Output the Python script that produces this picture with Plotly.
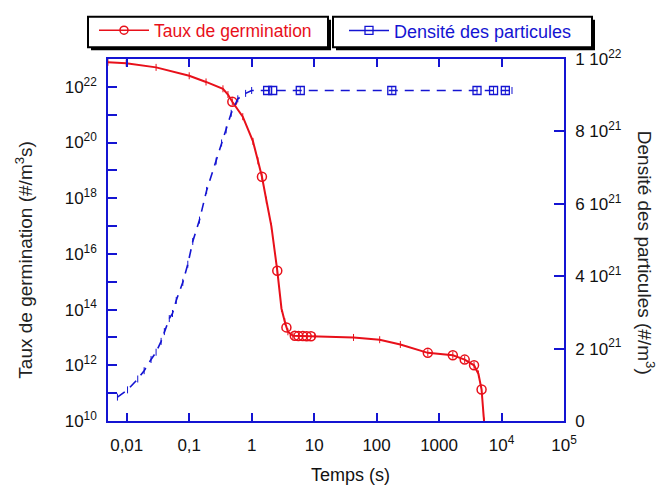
import plotly.graph_objects as go

# ---- data ----
# Taux de germination (left log axis), line points
germ_t = [0.005, 0.0098, 0.0295, 0.1, 0.186, 0.347, 0.417, 0.49, 0.72, 1.05, 1.26, 1.46, 1.72,
          2.07, 2.57, 3.0, 3.39, 3.8, 4.57, 10.2, 42.7, 112, 240, 660, 1660, 2570, 3630, 4270,
          4790, 5130, 5250]
germ_n = [7.6e22, 7.1e22, 5.0e22, 2.5e22, 1.5e22, 8.5e21, 5.3e21, 2.9e21, 8.5e20, 1.1e20, 2.2e19,
          5.9e18, 8.5e17, 9.8e16, 2.5e15, 1.1e14, 3.7e13, 1.6e13, 1.15e13, 1.1e13, 1.0e13, 8.3e12,
          5.6e12, 2.8e12, 2.3e12, 1.6e12, 1.0e12, 4.9e11, 1.35e11, 1.9e10, 1.0e10]
# circle markers on the germination curve
germ_mk_t = [0.49, 1.46, 2.57, 3.6, 4.9, 5.6, 6.6, 7.6, 8.9, 660, 1660, 2570, 3630, 4790]
germ_mk_n = [2.9e21, 5.9e18, 2.5e15, 2.3e13, 1.15e13, 1.12e13, 1.12e13, 1.1e13, 1.1e13, 2.8e12,
             2.3e12, 1.6e12, 1.0e12, 1.35e11]

# Densité des particules (right linear axis)
dens_t = [0.0071, 0.0103, 0.015, 0.019, 0.0245, 0.0295, 0.0355, 0.04, 0.048, 0.054, 0.062, 0.079,
          0.095, 0.114, 0.146, 0.19, 0.27, 0.33, 0.39, 0.47, 0.6, 0.8, 1.0, 1.95, 6.0, 175, 4050,
          7450, 11500, 14700]
dens_v = [0.66e21, 0.86e21, 1.16e21, 1.39e21, 1.70e21, 1.90e21, 2.20e21, 2.47e21, 2.83e21, 2.97e21,
          3.33e21, 3.83e21, 4.33e21, 4.96e21, 5.55e21, 6.37e21, 7.18e21, 7.68e21, 8.04e21, 8.50e21,
          8.90e21, 9.05e21, 9.13e21, 9.13e21, 9.13e21, 9.13e21, 9.13e21, 9.13e21, 9.13e21, 9.13e21]
dens_mk_t = [1.8, 2.17, 6.0, 175, 4050, 7450, 11500]
dens_mk_v = [9.13e21] * 7

x_tickvals = [0.01, 0.1, 1, 10, 100, 1000, 1e4, 1e5]
x_ticktext = ["0,01", "0,1", "1", "10", "100", "1000", "10<sup>4</sup>", "10<sup>5</sup>"]
y_tickvals = [10.0 ** k for k in range(10, 23)]
y_ticktext = [("10<sup>%d</sup>" % k) if k % 2 == 0 else "" for k in range(10, 23)]
y2_tickvals = [0, 2e21, 4e21, 6e21, 8e21, 1e22]
y2_ticktext = ["0", "2 10<sup>21</sup>", "4 10<sup>21</sup>", "6 10<sup>21</sup>",
               "8 10<sup>21</sup>", "1 10<sup>22</sup>"]

RED = "#e8101a"
BLUE = "#1414d2"
FONT = "Liberation Sans, Arial, sans-serif"

fig = go.Figure()

fig.add_trace(go.Scatter(x=germ_t, y=germ_n, mode="lines+markers", showlegend=False,
                         line=dict(color=RED, width=2),
                         marker=dict(symbol="line-ns", size=5, line=dict(color=RED, width=1))))
fig.add_trace(go.Scatter(x=germ_mk_t, y=germ_mk_n, mode="markers", showlegend=False,
                         marker=dict(symbol="circle-open", size=9, color=RED,
                                     line=dict(color=RED, width=1.5))))
fig.add_trace(go.Scatter(x=dens_t, y=dens_v, mode="lines+markers", showlegend=False, yaxis="y2",
                         line=dict(color=BLUE, width=1.6, dash="9px,7px"),
                         marker=dict(symbol="line-ns", size=5, line=dict(color=BLUE, width=1))))
fig.add_trace(go.Scatter(x=dens_mk_t, y=dens_mk_v, mode="markers", showlegend=False, yaxis="y2",
                         marker=dict(symbol="square-open", size=8, color=BLUE,
                                     line=dict(color=BLUE, width=1.3))))
# legend entries
fig.add_trace(go.Scatter(x=[None], y=[None], mode="lines+markers", name="Taux de germination",
                         legend="legend",
                         line=dict(color=RED, width=1.5),
                         marker=dict(symbol="circle-open", size=8, color=RED,
                                     line=dict(color=RED, width=1.5))))
fig.add_trace(go.Scatter(x=[None], y=[None], mode="lines+markers", name="Densité des particules",
                         legend="legend2", yaxis="y2",
                         line=dict(color=BLUE, width=1.5),
                         marker=dict(symbol="square-open", size=8, color=BLUE,
                                     line=dict(color=BLUE, width=1.3))))

W, H = 659, 487
L, R, T, B = 108, 95, 53, 66
pw, ph = W - L - R, H - T - B


def px(xp):
    return (xp - L) / pw


def py(yp):
    return (H - B - yp) / ph


axis_common = dict(showline=True, linecolor=BLUE, linewidth=1.5, ticks="inside",
                   tickcolor=BLUE, tickwidth=1.5, showgrid=False, zeroline=False,
                   tickfont=dict(family=FONT, size=17, color="#111"))

# legend boxes with drop shadows (pixel positions)
shapes = []
for (x0, y0, x1, y1) in [(88, 10, 328, 41), (333, 10, 592, 41)]:
    shapes.append(dict(type="rect", xref="paper", yref="paper", x0=px(x0 + 3), x1=px(x1 + 3),
                       y0=py(y1 + 3), y1=py(y0 + 3), fillcolor="black", line=dict(width=0),
                       layer="above"))
    shapes.append(dict(type="rect", xref="paper", yref="paper", x0=px(x0), x1=px(x1),
                       y0=py(y1), y1=py(y0), fillcolor="white",
                       line=dict(color="black", width=2), layer="above"))

fig.update_layout(
    width=W, height=H,
    margin=dict(l=L, r=R, t=T, b=B, pad=0),
    paper_bgcolor="white", plot_bgcolor="white",
    font=dict(family=FONT, size=17, color="#111"),
    xaxis=dict(type="log", range=[-2.3, 5], tickvals=x_tickvals, ticktext=x_ticktext,
               ticklen=8, mirror="ticks", ticklabelstandoff=8, **axis_common),
    yaxis=dict(type="log", range=[10, 23], tickvals=y_tickvals, ticktext=y_ticktext,
               ticklen=9, mirror=False, ticklabelstandoff=6, **axis_common),
    yaxis2=dict(overlaying="y", side="right", range=[0, 1e22], tickvals=y2_tickvals,
                ticktext=y2_ticktext, ticklen=10, ticklabelstandoff=6, **axis_common),
    legend=dict(x=px(94), y=py(5.5), xanchor="left", yanchor="top", bgcolor="rgba(0,0,0,0)",
                borderwidth=0, font=dict(family=FONT, size=17.5, color=RED),
                itemwidth=50),
    legend2=dict(x=px(344), y=py(5.5), xanchor="left", yanchor="top", bgcolor="rgba(0,0,0,0)",
                 borderwidth=0, font=dict(family=FONT, size=18, color=BLUE),
                 itemwidth=40),
    shapes=shapes,
    annotations=[
        dict(text="Temps (s)", x=px(350), y=py(476), xref="paper", yref="paper",
             xanchor="center", yanchor="middle", showarrow=False,
             font=dict(family=FONT, size=18, color="#111")),
        dict(text="Taux de germination (#/m<sup>3</sup>s)", x=px(24), y=py(257), xref="paper",
             yref="paper", xanchor="center", yanchor="middle", showarrow=False, textangle=-90,
             font=dict(family=FONT, size=19, color="#222")),
        dict(text="Densité des particules (#/m<sup>3</sup>)", x=px(646), y=py(250), xref="paper",
             yref="paper", xanchor="center", yanchor="middle", showarrow=False, textangle=90,
             font=dict(family=FONT, size=19, color="#222")),
    ],
)

fig.write_html("out.html", post_script="document.body.style.margin='0';",
               config={"displayModeBar": False})
